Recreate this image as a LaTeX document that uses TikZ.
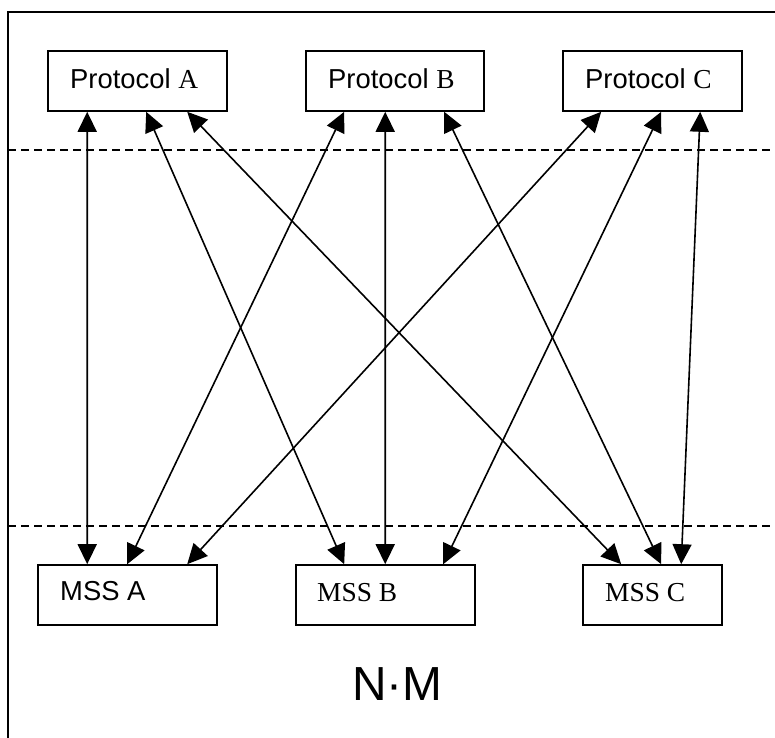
\documentclass[tikz,border=0pt]{standalone}
\usepackage{fontspec}
\setmainfont{Liberation Serif}
\newfontfamily\arialfont{Liberation Sans}
\usetikzlibrary{arrows.meta}
\begin{document}
\begin{tikzpicture}[x=1bp,y=-1bp,
  box/.style={draw,line width=1.6bp,inner sep=0pt,minimum height=60bp},
  lbl/.style={anchor=base west,inner sep=0pt,font=\fontsize{27.5}{30}\selectfont},
  arr/.style={line width=1.6bp,{Triangle[length=20bp,width=19bp]}-{Triangle[length=20bp,width=19bp]}},
  sep/.style={line width=1.4bp,dash pattern=on 8bp off 5bp}]
\useasboundingbox (0,0) rectangle (775,738);
% frame
\coordinate (fbl) at (8,738);
\coordinate (ftl) at (8,12);
\coordinate (ftr) at (775,12);
\draw[line width=1.6bp] (fbl) -- (ftl) -- (ftr);
% separators
\coordinate (s1l) at (8,150);
\coordinate (s1r) at (775,150);
\coordinate (s2l) at (8,526);
\coordinate (s2r) at (775,526);
\draw[sep] (s1l) -- (s1r);
\draw[sep] (s2l) -- (s2r);
% boxes
\node[box,minimum width=179bp] (pA) at (137.5,81) {};
\node[box,minimum width=178bp] (pB) at (395,81) {};
\node[box,minimum width=179bp] (pC) at (652.5,81) {};
\node[box,minimum width=179bp] (mA) at (127.5,595) {};
\node[box,minimum width=179bp] (mB) at (385.5,595) {};
\node[box,minimum width=139bp] (mC) at (652.5,595) {};
% labels
\node[lbl] (tA) at (70,88) {{\arialfont Protocol }A};
\node[lbl] (tB) at (328,88) {{\arialfont Protocol }B};
\node[lbl] (tC) at (585,88) {{\arialfont Protocol }C};
\node[lbl] (tmA) at (60,600) {\arialfont MSS A};
\node[lbl] (tmB) at (317,601) {MSS B};
\node[lbl] (tmC) at (605,601) {MSS C};
\node[anchor=base west,inner sep=0pt,font=\arialfont\fontsize{48}{52}\selectfont] (nm) at (352,700) {N·M};
% connectors
\draw[arr] ([xshift=40bp]pA.south west) -- ([xshift=50bp]mA.north west);
\draw[arr] ([xshift=99bp]pA.south west) -- ([xshift=49bp]mB.north west);
\draw[arr] ([xshift=140bp]pA.south west) -- ([xshift=39bp]mC.north west);
\draw[arr] ([xshift=39bp]pB.south west) -- ([xshift=90bp]mA.north west);
\draw[arr] ([xshift=80bp]pB.south west) -- ([xshift=90bp]mB.north west);
\draw[arr] ([xshift=139bp]pB.south west) -- ([xshift=79bp]mC.north west);
\draw[arr] ([xshift=39bp]pC.south west) -- ([xshift=150bp]mA.north west);
\draw[arr] ([xshift=99bp]pC.south west) -- ([xshift=148bp]mB.north west);
\draw[arr] ([xshift=138bp]pC.south west) -- ([xshift=99bp]mC.north west);
\end{tikzpicture}
\end{document}
